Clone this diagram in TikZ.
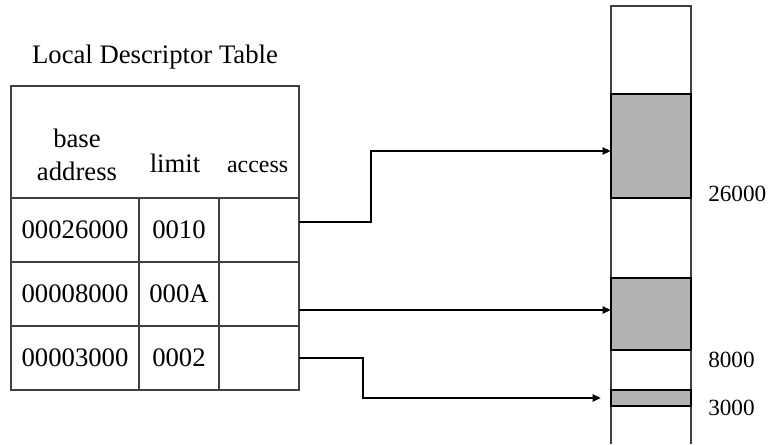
\documentclass[tikz,border=0pt]{standalone}
\usepackage{fontspec}
\setmainfont{Liberation Serif}
\usetikzlibrary{positioning,arrows.meta}

\begin{document}
\begin{tikzpicture}[
        font=\fontsize{19}{23}\selectfont,
        cell/.style={draw=black!75, line width=1pt, inner sep=0pt, outer sep=0pt, minimum height=1.6cm},
        seg/.style={draw=black, line width=1pt, fill=gray!60, inner sep=0pt, outer sep=0pt, minimum width=2cm},
        addr/.style={anchor=base west, inner sep=0pt, font=\fontsize{16.5}{20}\selectfont},
        link/.style={line width=1.6pt, -{Triangle[length=6pt,width=5pt]}}
    ]
        \useasboundingbox (0,0) rectangle (19.3,11.1);
        % descriptor table
        \node [cell, minimum width=7.2cm, minimum height=2.8cm, anchor=north west] (hdr) at (0.275,8.95) {};
        \node [anchor=base] (title) at (3.875,9.525) {Local Descriptor Table};
        \node [align=center] (hbase) at (1.925,7.225) {base\\address};
        \node [anchor=base] (hlimit) at (4.375,6.8) {limit};
        \node [anchor=base, font=\fontsize{17}{20}\selectfont] (hacc) at (6.44,6.8) {access};
        \node [cell, minimum width=3.2cm, anchor=north west] (base1) at (hdr.south west) {00026000};
        \node [cell, minimum width=2cm, right=0pt of base1] (lim1) {0010};
        \node [cell, minimum width=2cm, right=0pt of lim1] (acc1) {};
        \node [cell, minimum width=3.2cm, below=0pt of base1] (base2) {00008000};
        \node [cell, minimum width=2cm, right=0pt of base2] (lim2) {000A};
        \node [cell, minimum width=2cm, right=0pt of lim2] (acc2) {};
        \node [cell, minimum width=3.2cm, below=0pt of base2] (base3) {00003000};
        \node [cell, minimum width=2cm, right=0pt of base3] (lim3) {0002};
        \node [cell, minimum width=2cm, right=0pt of lim3] (acc3) {};
        % memory
        \draw [black!75, line width=1pt] (15.275,0) -- (15.275,10.95) -- (17.275,10.95) -- (17.275,0);
        \node [seg, minimum height=2.6cm, anchor=north west] (seg1) at (15.275,8.75) {};
        \node [seg, minimum height=1.8cm, anchor=north west] (seg2) at (15.275,4.15) {};
        \node [seg, minimum height=0.4cm, anchor=north west] (seg3) at (15.275,1.35) {};
        \node [addr] (a26) at (17.7,6.075) {26000};
        \node [addr] (a8) at (17.7,1.925) {8000};
        \node [addr] (a3) at (17.7,0.725) {3000};
        % links
        \coordinate (j1) at (9.275,7.325);
        \coordinate (j2) at (0,3.35);
        \coordinate (j3) at (9.075,0);
        \draw [link] ([yshift=0.2cm]acc1.east) -| (j1) -- (j1 -| seg1.west);
        \draw [link] (acc2.east |- j2) -- (seg2.west |- j2);
        \draw [link, shorten >=0.25cm] (acc3.east) -| (j3 |- seg3.west) -- (seg3.west);
\end{tikzpicture}
\end{document}
